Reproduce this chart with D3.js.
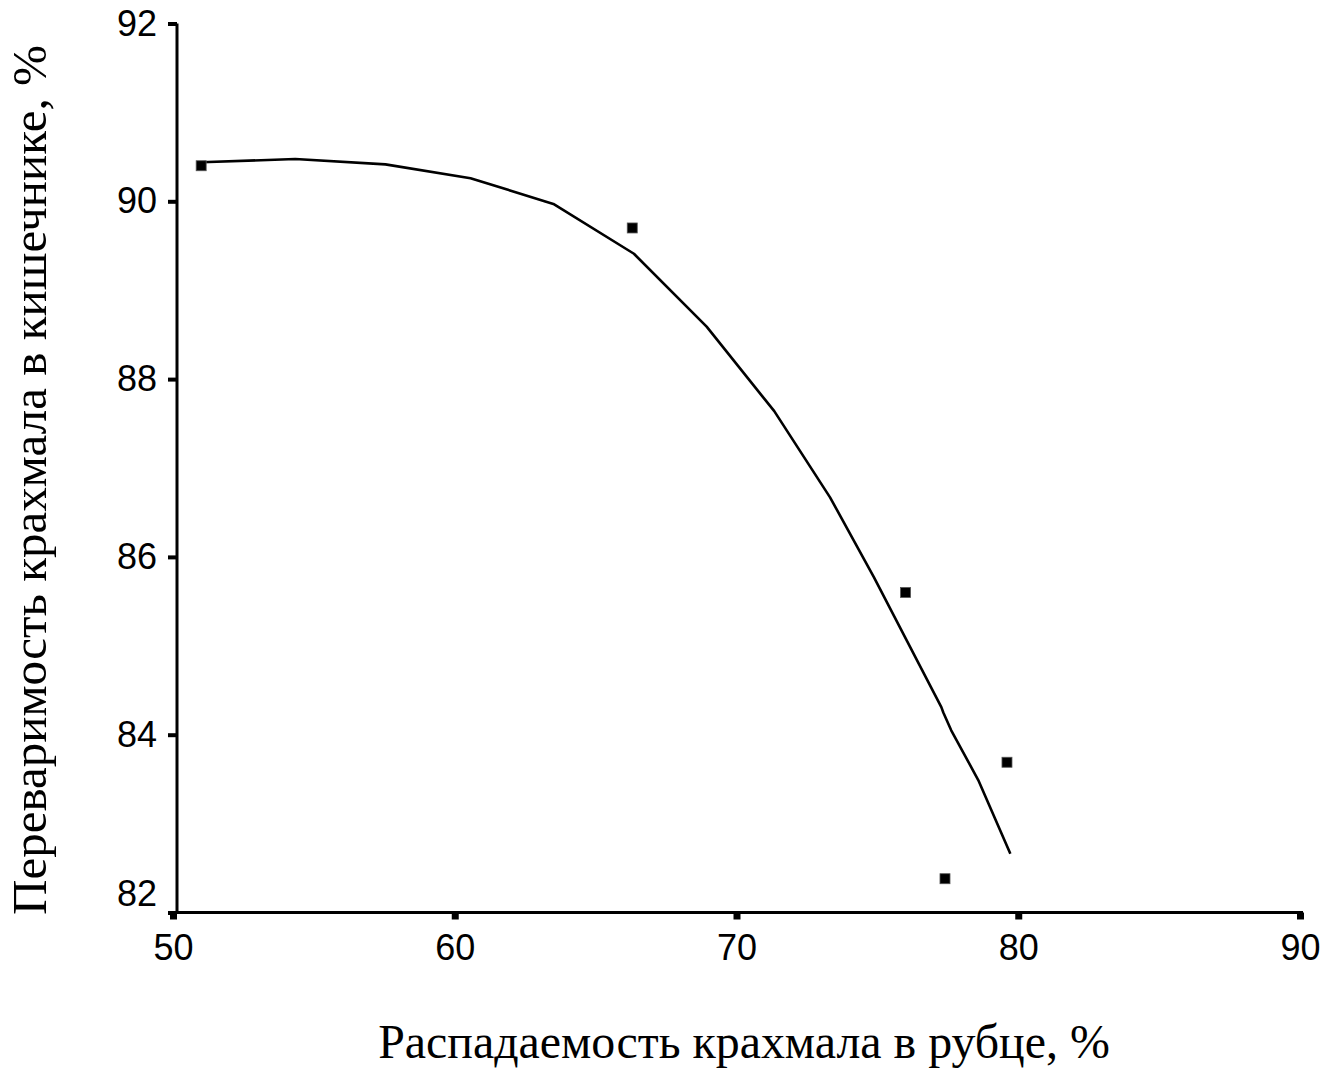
<!DOCTYPE html>
<html>
<head>
<meta charset="utf-8">
<script src="https://cdn.jsdelivr.net/npm/d3@7"></script>
<style>
  html, body { margin: 0; padding: 0; background: #fff; }
  svg { display: block; }
</style>
</head>
<body>
<svg id="chart" width="1323" height="1071"></svg>
<script>
// ---- data ----
const xTicks = [50, 60, 70, 80, 90];
const yTicks = [82, 84, 86, 88, 90, 92];

// observed points
const pointX = [51.0, 66.3, 76.0, 77.4, 79.6];
const pointY = [90.40, 89.70, 85.60, 82.38, 83.69];

// fitted line
const lineX = [51.0, 54.34, 57.54, 60.56, 63.50, 66.36, 68.94, 71.34, 73.32, 74.88, 77.27, 77.34, 77.62, 78.58, 79.72];
const lineY = [90.44, 90.475, 90.415, 90.26, 89.97, 89.41, 88.59, 87.64, 86.67, 85.77, 84.31, 84.25, 84.05, 83.49, 82.66];

const xTitle = "Распадаемость крахмала в рубце, %";
const yTitle = "Переваримость крахмала в кишечнике, %";

// ---- chart ----
const svg = d3.select("#chart");
const x = d3.scaleLinear().domain([50, 90]).range([173, 1300]);
const y = d3.scaleLinear().domain([82, 92]).range([912.5, 23.5]);
const axisX0 = 177;

const tickFont = "'Liberation Sans', Arial, sans-serif";
const titleFont = "'Liberation Serif', 'Times New Roman', serif";

// Y axis
const gy = svg.append("g")
  .attr("transform", `translate(${axisX0},0)`)
  .call(d3.axisLeft(y).tickValues(yTicks).tickSize(9).tickPadding(11).tickSizeOuter(0).tickFormat(d3.format("d")));
gy.select(".domain").remove();
gy.selectAll(".tick line").attr("stroke", "#000").attr("stroke-width", 4);
gy.selectAll(".tick text")
  .attr("font-family", tickFont).attr("font-size", 36).attr("fill", "#000")
  .attr("dy", d => d === 82 ? "-0.2em" : "0.32em");
gy.append("line")
  .attr("x1", 0).attr("x2", 0)
  .attr("y1", y(92)).attr("y2", y(82) + 1.5)
  .attr("stroke", "#000").attr("stroke-width", 3);

// X axis
const gx = svg.append("g")
  .attr("transform", `translate(0,${y(82)})`)
  .call(d3.axisBottom(x).tickValues(xTicks).tickSize(7).tickPadding(15).tickSizeOuter(0).tickFormat(d3.format("d")));
gx.select(".domain").remove();
gx.selectAll(".tick line").attr("stroke", "#000").attr("stroke-width", 7);
gx.selectAll(".tick text")
  .attr("font-family", tickFont).attr("font-size", 36).attr("fill", "#000");
gx.append("line")
  .attr("x1", axisX0 - 1.5).attr("x2", x(90) + 3)
  .attr("y1", 0).attr("y2", 0)
  .attr("stroke", "#000").attr("stroke-width", 3);

// line
const lineData = lineX.map((v, i) => [v, lineY[i]]);
svg.append("path")
  .datum(lineData)
  .attr("fill", "none")
  .attr("stroke", "#000")
  .attr("stroke-width", 2.6)
  .attr("stroke-linejoin", "round")
  .attr("d", d3.line().x(d => x(d[0])).y(d => y(d[1])));

// points
const pts = pointX.map((v, i) => [v, pointY[i]]);
const sz = 10;
svg.append("g").selectAll("rect")
  .data(pts).join("rect")
  .attr("x", d => x(d[0]) - sz / 2)
  .attr("y", d => y(d[1]) - sz / 2)
  .attr("width", sz).attr("height", sz)
  .attr("fill", "#000")
  .attr("stroke", "#555").attr("stroke-width", 0.8);

// titles
function fitText(sel, target) {
  const w = sel.node().getComputedTextLength();
  const fs = 44 * target / w;
  sel.attr("font-size", fs);
}
const xt = svg.append("text")
  .attr("x", 744).attr("y", 1058)
  .attr("text-anchor", "middle")
  .attr("font-family", titleFont).attr("font-size", 44).attr("fill", "#000")
  .text(xTitle);
fitText(xt, 732);

const yt = svg.append("text")
  .attr("transform", "translate(46,480) rotate(-90)")
  .attr("text-anchor", "middle")
  .attr("font-family", titleFont).attr("font-size", 44).attr("fill", "#000")
  .text(yTitle);
fitText(yt, 870);
</script>
</body>
</html>
